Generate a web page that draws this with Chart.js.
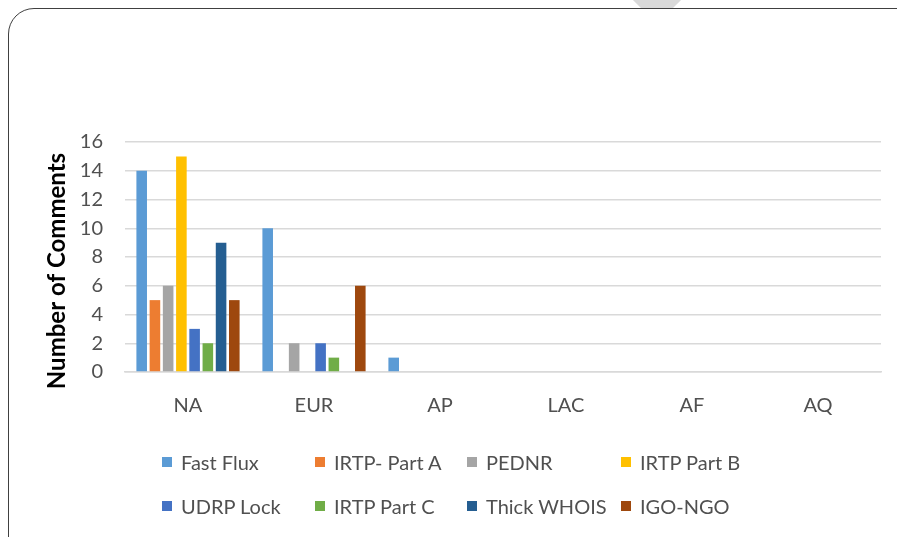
<!DOCTYPE html>
<html>
<head>
<meta charset="utf-8">
<script src="https://cdn.jsdelivr.net/npm/chart.js@4"></script>
<style>
  html, body { margin: 0; padding: 0; background: #fff; }
  body { width: 897px; height: 537px; position: relative; overflow: hidden; font-family: Lato, 'Open Sans', sans-serif; }
  .peak { position: absolute; left: 640px; top: -17px; width: 34px; height: 34px; background: #d9d9d9; transform: rotate(45deg); }
  .frame { position: absolute; left: 8px; top: 8px; width: 920px; height: 560px; border: 1.5px solid #404040; border-radius: 26px; background: #fff; }
  .wrap { position: absolute; left: 0; top: 0; width: 897px; height: 537px; }
  .leg { position: absolute; left: 0; top: 0; }
  .li { position: absolute; display: flex; align-items: center; font-size: 20px; color: #505050; white-space: nowrap; }
  .li i { display: inline-block; width: 10px; height: 10px; margin-right: 9px; }
</style>
</head>
<body>
<div class="peak"></div>
<div class="frame"></div>
<div class="wrap"><canvas id="c" width="897" height="537"></canvas></div>
<div class="leg" id="leg"></div>
<script>
// ── Data ────────────────────────────────────────────────
const regions = ['NA', 'EUR', 'AP', 'LAC', 'AF', 'AQ'];
const yTicks = [0, 2, 4, 6, 8, 10, 12, 14, 16];
const seriesNames = ['Fast Flux', 'IRTP- Part A', 'PEDNR', 'IRTP Part B', 'UDRP Lock', 'IRTP Part C', 'Thick WHOIS', 'IGO-NGO'];
const fastFlux   = [14, 10, 1, 0, 0, 0];
const irtpA      = [5, 0, 0, 0, 0, 0];
const pednr      = [6, 2, 0, 0, 0, 0];
const irtpB      = [15, 0, 0, 0, 0, 0];
const udrpLock   = [3, 2, 0, 0, 0, 0];
const irtpC      = [2, 1, 0, 0, 0, 0];
const thickWhois = [9, 0, 0, 0, 0, 0];
const igoNgo     = [5, 6, 0, 0, 0, 0];
const seriesData = [fastFlux, irtpA, pednr, irtpB, udrpLock, irtpC, thickWhois, igoNgo];
const CLRS = ['#5B9BD5', '#ED7D31', '#A5A5A5', '#FFC000', '#4472C4', '#70AD47', '#255E91', '#9E480E'];

// ── Legend (HTML) ───────────────────────────────────────
const legCols = [162, 315, 467, 621], legRows = [462, 506];
document.getElementById('leg').innerHTML = seriesNames.map((n, i) =>
  `<div class="li" style="left:${legCols[i % 4]}px;top:${legRows[Math.floor(i / 4)] - 12}px;height:24px"><i style="background:${CLRS[i]}"></i>${n}</div>`
).join('');

// ── Y title drawn by hand so it sits where Excel put it ──
const yTitle = {
  id: 'yTitle',
  afterDraw(ch) {
    const c = ch.ctx;
    c.save();
    c.translate(57, 271);
    c.rotate(-Math.PI / 2);
    c.font = 'bold 24px Lato';
    c.fillStyle = '#000';
    c.textAlign = 'center';
    c.textBaseline = 'middle';
    c.fillText('Number of Comments', 0, 0);
    c.restore();
  }
};

Chart.defaults.font.family = 'Lato';
Chart.defaults.font.size = 20;
Chart.defaults.color = '#505050';

new Chart(document.getElementById('c').getContext('2d'), {
  type: 'bar',
  data: {
    labels: regions,
    datasets: seriesNames.map((n, i) => ({
      label: n, data: seriesData[i], backgroundColor: CLRS[i], borderWidth: 0,
      categoryPercentage: 0.84, barPercentage: 0.8
    }))
  },
  options: {
    responsive: false, animation: false,
    layout: { padding: { left: 0, top: 142, right: 16, bottom: 0 } },
    plugins: { legend: { display: false }, tooltip: { enabled: false } },
    scales: {
      x: {
        grid: { display: false },
        border: { color: '#d9d9d9', width: 1.5 },
        ticks: { padding: 14, font: { size: 20 } },
        afterFit: s => { s.height = 537 - 372; }
      },
      y: {
        min: 0, max: 16,
        afterBuildTicks: s => { s.ticks = yTicks.map(v => ({ value: v })); },
        grid: { color: '#d9d9d9', lineWidth: 1.5, drawTicks: false },
        border: { display: false },
        ticks: { padding: 22, font: { size: 20 } },
        afterFit: s => { s.width = 125; }
      }
    }
  },
  plugins: [yTitle]
});
</script>
</body>
</html>
